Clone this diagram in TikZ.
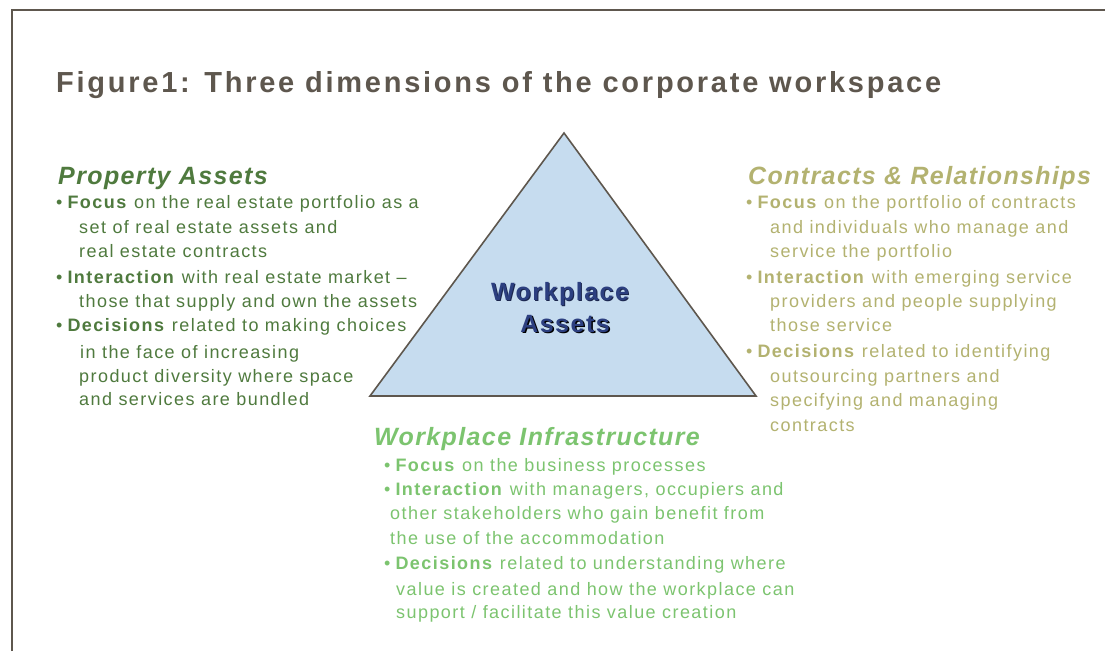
\documentclass[tikz,border=0pt]{standalone}
\usepackage{fontspec}
\setmainfont{Liberation Sans}
\newfontfamily\titlef[LetterSpace=9.5]{Liberation Sans}
\newfontfamily\bodyf[LetterSpace=8]{Liberation Sans}
\newfontfamily\headf[LetterSpace=5.5]{Liberation Sans}
\newfontfamily\assetf[LetterSpace=6]{Liberation Sans}
\definecolor{framec}{HTML}{5E574E}
\definecolor{titlec}{HTML}{5E574E}
\definecolor{propc}{HTML}{4F7A3E}
\definecolor{contc}{HTML}{B3B270}
\definecolor{infrc}{HTML}{7CC46F}
\definecolor{trifill}{HTML}{C6DCEF}
\definecolor{assetc}{HTML}{2C3F80}
\tikzset{
  txt/.style={anchor=base west, inner sep=0pt, font=\bodyf\fontsize{18}{20}\selectfont},
  head/.style={anchor=base west, inner sep=0pt, font=\headf\fontsize{25}{28}\selectfont\bfseries\itshape},
  asset/.style={anchor=base, inner sep=0pt, font=\assetf\fontsize{25}{28}\selectfont\bfseries},
}
\newcommand{\bul}{\textbullet\hspace{0.2em}}
\begin{document}
\begin{tikzpicture}[x=1pt,y=-1pt]
\useasboundingbox (0,0) rectangle (1105,651);
\fill[white] (0,0) rectangle (1105,651);
\draw[framec, line width=2pt] (12,651) -- (12,9.5) -- (1105,9.5);
\node[anchor=base west, inner sep=0pt, text=titlec, font=\titlef\fontsize{29}{32}\selectfont\bfseries] (title) at (56,92) {Figure1: Three dimensions of the corporate workspace};
% triangle
\coordinate (apex) at (564,133);
\coordinate (bl) at (370,396);
\coordinate (br) at (756,396);
\draw[framec, line width=1.6pt, fill=trifill, line join=miter] (apex) -- (br) -- (bl) -- cycle;
\node[asset, text=assetc!60!black] (wa1s) at (561,301) {Workplace};
\node[asset, text=assetc] (wa1) at (560,300) {Workplace};
\node[asset, text=black] (wa2s) at (566.5,333.5) {Assets};
\node[asset, text=assetc] (wa2) at (565,332) {Assets};
% left column
\begin{scope}[text=propc]
\node[head] (ph) at (58,184) {Property Assets};
\node[txt] (p1) at (56,208) {\bul\textbf{Focus} on the real estate portfolio as a};
\node[txt] (p2) at (79,233) {set of real estate assets and};
\node[txt] (p3) at (79,257) {real estate contracts};
\node[txt] (p4) at (56,283) {\bul\textbf{Interaction} with real estate market –};
\node[txt] (p5) at (79,307) {those that supply and own the assets};
\node[txt] (p6) at (56,331) {\bul\textbf{Decisions} related to making choices};
\node[txt] (p7) at (80,358) {in the face of increasing};
\node[txt] (p8) at (79,382) {product diversity where space};
\node[txt] (p9) at (79,405) {and services are bundled};
\end{scope}
% right column
\begin{scope}[text=contc]
\node[head] (ch) at (748,184) {Contracts \& Relationships};
\node[txt] (c1) at (746,208) {\bul\textbf{Focus} on the portfolio of contracts};
\node[txt] (c2) at (770,233) {and individuals who manage and};
\node[txt] (c3) at (770,257) {service the portfolio};
\node[txt] (c4) at (746,283) {\bul\textbf{Interaction} with emerging service};
\node[txt] (c5) at (770,307) {providers and people supplying};
\node[txt] (c6) at (770,331) {those service};
\node[txt] (c7) at (746,357) {\bul\textbf{Decisions} related to identifying};
\node[txt] (c8) at (770,382) {outsourcing partners and};
\node[txt] (c9) at (770,406) {specifying and managing};
\node[txt] (c10) at (770,431) {contracts};
\end{scope}
% bottom
\begin{scope}[text=infrc]
\node[head] (ih) at (374,445) {Workplace Infrastructure};
\node[txt] (i1) at (384,471) {\bul\textbf{Focus} on the business processes};
\node[txt] (i2) at (384,495) {\bul\textbf{Interaction} with managers, occupiers and};
\node[txt] (i3) at (390,519) {other stakeholders who gain benefit from};
\node[txt] (i4) at (390,544) {the use of the accommodation};
\node[txt] (i5) at (384,569) {\bul\textbf{Decisions} related to understanding where};
\node[txt] (i6) at (396,595) {value is created and how the workplace can};
\node[txt] (i7) at (396,618) {support / facilitate this value creation};
\end{scope}
\end{tikzpicture}
\end{document}
